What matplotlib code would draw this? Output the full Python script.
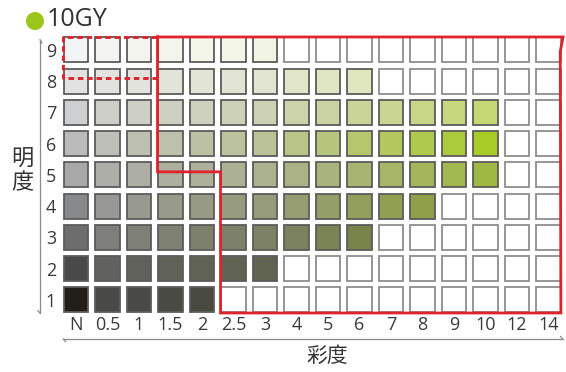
import matplotlib
matplotlib.use("Agg")
import matplotlib.pyplot as plt
from matplotlib.patches import Rectangle, Ellipse
from matplotlib.lines import Line2D
import numpy as np

# ---- data ----
chroma_labels = ['N', '0.5', '1', '1.5', '2', '2.5', '3', '4', '5', '6', '7', '8', '9', '10', '12', '14']
chroma_values = [0, 0.5, 1, 1.5, 2, 2.5, 3, 4, 5, 6, 7, 8, 9, 10, 12, 14]
value_levels = [1, 2, 3, 4, 5, 6, 7, 8, 9]
max_chroma = [2, 3, 6, 8, 10, 10, 10, 6, 3]          # highest chroma shown per value
lightness = [31, 41, 53, 63, 71, 77, 83, 90, 96]     # rendered lightness per value row
neutral_lightness = [11, 31, 46, 57, 69, 76, 83, 90, 96]
chroma_gain = [3.0, 4.0, 5.4, 6.0, 6.0, 7.8, 5.2, 3.6, 3.0]  # Lab chroma per Munsell chroma step

# ---- style ----
plt.rcParams['font.family'] = ['Open Sans', 'DejaVu Sans']
CJK = ['Noto Sans CJK JP', 'DejaVu Sans']
RED = '#e0232b'
TXT = '#3a3a3a'


def lab_to_rgb(L, a, b):
    fy = (L + 16) / 116
    fx = fy + a / 500
    fz = fy - b / 200
    def finv(t):
        return t ** 3 if t > 6 / 29 else 3 * (6 / 29) ** 2 * (t - 4 / 29)
    X = 0.95047 * finv(fx)
    Y = finv(fy)
    Z = 1.08883 * finv(fz)
    r = 3.2406 * X - 1.5372 * Y - 0.4986 * Z
    g = -0.9689 * X + 1.8758 * Y + 0.0415 * Z
    bb = 0.0557 * X - 0.2040 * Y + 1.0570 * Z
    out = []
    for c in (r, g, bb):
        c = max(c, 0.0)
        c = 1.055 * c ** (1 / 2.4) - 0.055 if c > 0.0031308 else 12.92 * c
        out.append(min(max(c, 0.0), 1.0))
    return tuple(out)


def cell_color(vi, ci):
    c = chroma_values[ci]
    if c == 0:
        L = neutral_lightness[vi]
        if vi == 0:
            return lab_to_rgb(L, 1.5, 3)
        return lab_to_rgb(L, 0, -0.5)
    L = lightness[vi]
    C = chroma_gain[vi] * c
    h = np.deg2rad(115)
    return lab_to_rgb(L, C * np.cos(h), C * np.sin(h))


fig = plt.figure(figsize=(5.66, 3.72), dpi=100)
ax = fig.add_axes([60.25 / 566, (372 - 315.6) / 372, 504 / 566, 281.25 / 372])
ax.set_xlim(-0.5, len(chroma_labels) - 0.5)
ax.set_ylim(0.5, 9.5)
for s in ax.spines.values():
    s.set_visible(False)

w, h = 0.79, 0.80
for vi, v in enumerate(value_levels):
    for ci, c in enumerate(chroma_values):
        colored = c <= max_chroma[vi]
        fc = cell_color(vi, ci) if colored else 'white'
        ec = '#5c5c5c' if colored else '#8e8e8e'
        ax.add_patch(Rectangle((ci - w / 2, v - h / 2), w, h, facecolor=fc,
                               edgecolor=ec, linewidth=1.3, zorder=2))

# red solid outline
xl, xm, xr = 2.587, 4.587, len(chroma_labels) - 1 + 0.413
yt, yb, ys = 9.416, 0.584, 5.1
ax.plot([xl, xr + 0.05, xr - 0.04, xr - 0.02, xm, xm, xl, xl],
        [yt, yt, 8.95, yb, yb, ys, ys, yt], color=RED, lw=2.0,
        solid_joinstyle='miter', zorder=5, clip_on=False)
# red dashed outline
ax.plot([xl, -0.413, -0.413, xl], [yt, yt, 8.1, 8.1], color=RED, lw=2.1,
        dashes=(1.9, 1.3), zorder=5, clip_on=False)

# ticks
ax.set_xticks(range(len(chroma_labels)))
ax.set_xticklabels(chroma_labels)
ax.set_yticks(value_levels)
ax.set_yticklabels([str(v) for v in value_levels])
ax.tick_params(length=0, labelsize=13, labelcolor=TXT)
ax.tick_params(axis='x', pad=0)
ax.tick_params(axis='y', pad=3)

# axis arrows (thin gray lines with half-heads)
gc = '#8a8a8a'
ax.add_line(Line2D([-1.143, -1.143], [9.33, 0.58], color=gc, lw=0.9, clip_on=False))
ax.add_line(Line2D([-1.143, -1.08], [9.33, 9.22], color=gc, lw=0.9, clip_on=False))
ax.add_line(Line2D([-1.143, -1.21], [0.58, 0.66], color=gc, lw=0.9, clip_on=False))
ax.add_line(Line2D([-0.40, 15.45], [-0.25, -0.25], color=gc, lw=0.9, clip_on=False))
ax.add_line(Line2D([-0.40, -0.33], [-0.25, -0.33], color=gc, lw=0.9, clip_on=False))
ax.add_line(Line2D([15.45, 15.38], [-0.25, -0.17], color=gc, lw=0.9, clip_on=False))

# axis titles
fig.text(327 / 566, 1 - 356 / 372, '彩度', fontsize=15, color='#333333',
         family=CJK, ha='center', va='center')
fig.text(22 / 566, 1 - 171 / 372, '明\n度', fontsize=16, color='#333333',
         family=CJK, ha='center', va='center', linespacing=1.0)

# title
fig.add_artist(Ellipse((35 / 566, 1 - 21 / 372), 18 / 566, 18 / 372,
                       transform=fig.transFigure, facecolor='#9cc61c', edgecolor='none'))
fig.text(47 / 566, 1 - 19 / 372, '10GY', fontsize=18, color='#333333',
         ha='left', va='center')

fig.savefig('out.png', dpi=100)
